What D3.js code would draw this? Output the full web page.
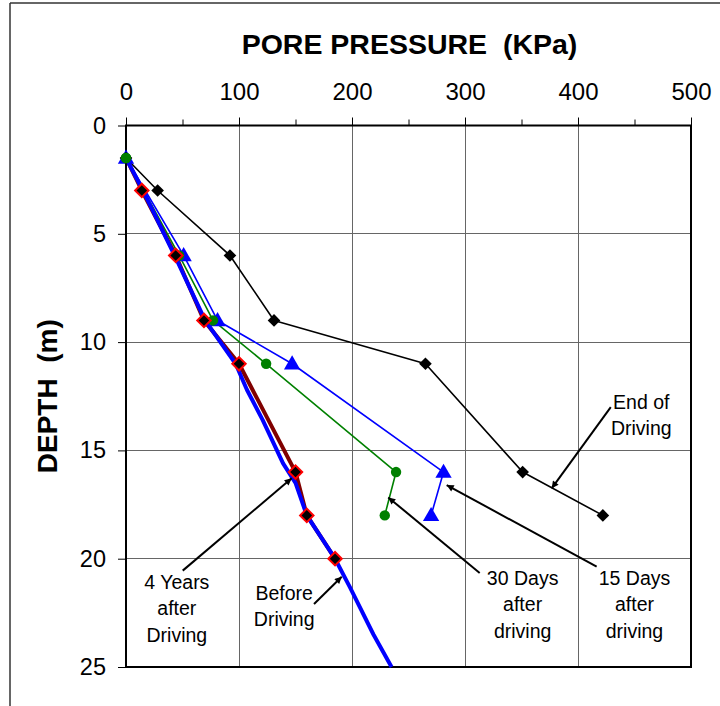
<!DOCTYPE html>
<html>
<head>
<meta charset="utf-8">
<script src="https://cdn.jsdelivr.net/npm/d3@7"></script>
<style>
  html, body { margin: 0; padding: 0; background: #fff; }
  svg { display: block; }
  text { font-family: "Liberation Sans", Arial, sans-serif; fill: #000; }
</style>
</head>
<body>
<div id="chart"></div>
<script>
// ---------------- DATA ----------------
const xTicks = [0, 100, 200, 300, 400, 500];
const xMinorTicks = [50, 150, 250, 350, 450];
const yTicks = [0, 5, 10, 15, 20, 25];

// End of Driving (black diamonds)
const endDepth = [1.5, 3, 6, 9, 11, 16, 18];
const endPress = [0, 28, 92, 131, 265, 351, 422];

// 15 Days after driving (blue triangles)
const d15Depth = [1.5, 6, 9, 11, 16, 18];
const d15Press = [0, 51, 81, 147, 281, 270];

// 30 Days after driving (green circles)
const d30Depth = [1.5, 6, 9, 11, 16, 18];
const d30Press = [0, 47, 77, 124, 239, 229];

// 4 Years after Driving (dark red line, black diamonds with red edge)
const y4Depth = [1.5, 3, 6, 9, 11, 16, 18, 20];
const y4Press = [0, 14, 44, 69, 100, 150, 160, 185];

// Before Driving (thick blue line)
const beforeDepth = [1.5, 3, 6, 9, 11, 12.2, 13.6, 15.6, 16.5, 18, 20, 21.3, 23.5, 25];
const beforePress = [0, 15, 43, 70, 97, 107, 121, 139, 150, 160, 185, 198, 219, 235];

// Annotations: text lines, text anchor (pressure, depth), arrow from -> to
const annLabels = [
  ["End of", "Driving"],
  ["15 Days", "after", "driving"],
  ["30 Days", "after", "driving"],
  ["Before", "Driving"],
  ["4 Years", "after", "Driving"]
];
const annTextP = [456, 450, 351, 140, 45];
const annTextD = [12.75, 20.87, 20.88, 21.57, 21.06];
const annFromP = [429, 416.5, 313, 166.4, 50.2];
const annFromD = [13.0, 20.37, 20.66, 22.09, 20.55];
const annToP = [376.7, 283.8, 232.1, 190.9, 146.6];
const annToD = [16.75, 16.6, 17.17, 20.83, 16.29];

// ---------------- CHART ----------------
const W = 720, H = 706;
const svg = d3.select("#chart").append("svg").attr("width", W).attr("height", H);

const x = d3.scaleLinear().domain([0, 500]).range([126, 691]);
const y = d3.scaleLinear().domain([0, 25]).range([125.5, 667]);

// outer frame (top and left edges)
svg.append("line").attr("x1", 10).attr("x2", W).attr("y1", 3).attr("y2", 3)
  .attr("stroke", "#333").attr("stroke-width", 1.5);
svg.append("line").attr("x1", 10).attr("x2", 10).attr("y1", 3).attr("y2", H)
  .attr("stroke", "#333").attr("stroke-width", 1.5);

// gridlines
const grid = svg.append("g").attr("stroke", "#666").attr("stroke-width", 1).attr("shape-rendering", "crispEdges");
grid.selectAll(".vg").data(xTicks.slice(1, -1)).join("line")
  .attr("x1", d => x(d)).attr("x2", d => x(d)).attr("y1", y(0)).attr("y2", y(25));
grid.selectAll(".hg").data(yTicks.slice(1, -1)).join("line")
  .attr("x1", x(0)).attr("x2", x(500)).attr("y1", d => y(d)).attr("y2", d => y(d));

// axes
const xAxis = d3.axisTop(x).tickValues(xTicks).tickSize(8).tickPadding(18).tickFormat(d3.format("d"));
const gx = svg.append("g").attr("transform", `translate(0,${y(0)})`).call(xAxis);
gx.select(".domain").remove();
gx.selectAll(".tick line").attr("stroke", "#000").attr("stroke-width", 1);
gx.selectAll(".tick text").attr("font-size", 24).attr("font-family", "Liberation Sans, Arial, sans-serif").attr("fill", "#000");
const xMinor = d3.axisTop(x).tickValues(xMinorTicks).tickSize(6).tickFormat("");
const gxm = svg.append("g").attr("transform", `translate(0,${y(0)})`).call(xMinor);
gxm.select(".domain").remove();
gxm.selectAll(".tick line").attr("stroke", "#000");

const yAxis = d3.axisLeft(y).tickValues(yTicks).tickSize(8).tickPadding(12).tickFormat(d3.format("d"));
const gy = svg.append("g").attr("transform", `translate(${x(0)},0)`).call(yAxis);
gy.select(".domain").remove();
gy.selectAll(".tick line").attr("stroke", "#000").attr("stroke-width", 1);
gy.selectAll(".tick text").attr("font-size", 23.5).attr("font-family", "Liberation Sans, Arial, sans-serif").attr("fill", "#000");

// plot frame
svg.append("rect").attr("x", x(0)).attr("y", y(0)).attr("width", x(500) - x(0)).attr("height", y(25) - y(0))
  .attr("fill", "none").attr("stroke", "#000").attr("stroke-width", 2);

// titles
svg.append("text").attr("x", 409.5).attr("y", 53.5).attr("text-anchor", "middle")
  .attr("font-size", 28.5).attr("font-weight", "bold")
  .attr("xml:space", "preserve").style("white-space", "pre")
  .text("PORE PRESSURE  (KPa)");
svg.append("text").attr("transform", `translate(56.5,${(y(0) + y(25)) / 2}) rotate(-90)`)
  .attr("text-anchor", "middle").attr("font-size", 28).attr("font-weight", "bold")
  .attr("xml:space", "preserve").style("white-space", "pre")
  .text("DEPTH  (m)");

// helpers
const zip = (ps, ds) => ps.map((p, i) => [p, ds[i]]);
const line = d3.line().x(d => x(d[0])).y(d => y(d[1]));

const endPts = zip(endPress, endDepth);
const d15Pts = zip(d15Press, d15Depth);
const d30Pts = zip(d30Press, d30Depth);
const y4Pts = zip(y4Press, y4Depth);
const beforePts = zip(beforePress, beforeDepth);

const lines = svg.append("g").attr("fill", "none").attr("stroke-linejoin", "round");
lines.append("path").attr("d", line(endPts)).attr("stroke", "#000").attr("stroke-width", 1.6);
lines.append("path").attr("d", line(d30Pts)).attr("stroke", "#008000").attr("stroke-width", 1.6);
lines.append("path").attr("d", line(d15Pts)).attr("stroke", "#0000ff").attr("stroke-width", 1.6);
lines.append("path").attr("d", line(y4Pts)).attr("stroke", "#800000").attr("stroke-width", 4);
lines.append("path").attr("d", line(beforePts)).attr("stroke", "#0000ff").attr("stroke-width", 4);

// markers
const sym = (type, size) => d3.symbol().type(type).size(size)();
const mk = svg.append("g");
mk.selectAll(".m15").data(d15Pts).join("path")
  .attr("transform", d => `translate(${x(d[0])},${y(d[1]) + 1})`)
  .attr("d", sym(d3.symbolTriangle, 115)).attr("fill", "#0000ff");
mk.selectAll(".m30").data(d30Pts).join("path")
  .attr("transform", d => `translate(${x(d[0])},${y(d[1])})`)
  .attr("d", sym(d3.symbolCircle, 85)).attr("fill", "#008000");
mk.selectAll(".mend").data(endPts).join("path")
  .attr("transform", d => `translate(${x(d[0])},${y(d[1])}) rotate(45)`)
  .attr("d", sym(d3.symbolSquare, 80)).attr("fill", "#000");
mk.selectAll(".my4").data(y4Pts.slice(1)).join("path")
  .attr("transform", d => `translate(${x(d[0])},${y(d[1])}) rotate(45)`)
  .attr("d", sym(d3.symbolSquare, 90)).attr("fill", "#000").attr("stroke", "#ff0000").attr("stroke-width", 2);
// green start point on top
mk.append("path").attr("transform", `translate(${x(d30Pts[0][0])},${y(d30Pts[0][1])})`)
  .attr("d", sym(d3.symbolCircle, 85)).attr("fill", "#008000");

// arrowhead marker
svg.append("defs").append("marker").attr("id", "arr")
  .attr("viewBox", "0 0 10 10").attr("refX", 10).attr("refY", 5)
  .attr("markerWidth", 9).attr("markerHeight", 7).attr("markerUnits", "userSpaceOnUse")
  .attr("orient", "auto")
  .append("path").attr("d", "M0,0 L10,5 L0,10 Z").attr("fill", "#000");

// annotations
const ann = svg.append("g");
annLabels.forEach((lbls, i) => {
  ann.append("line")
    .attr("x1", x(annFromP[i])).attr("y1", y(annFromD[i]))
    .attr("x2", x(annToP[i])).attr("y2", y(annToD[i]))
    .attr("stroke", "#000").attr("stroke-width", 2).attr("marker-end", "url(#arr)");
  const t = ann.append("text").attr("text-anchor", "middle").attr("font-size", 19.5)
    .attr("x", x(annTextP[i])).attr("y", y(annTextD[i]) + 7);
  lbls.forEach((s, j) => {
    t.append("tspan").attr("x", x(annTextP[i])).attr("dy", j === 0 ? 0 : 26.5).text(s);
  });
});
</script>
</body>
</html>
